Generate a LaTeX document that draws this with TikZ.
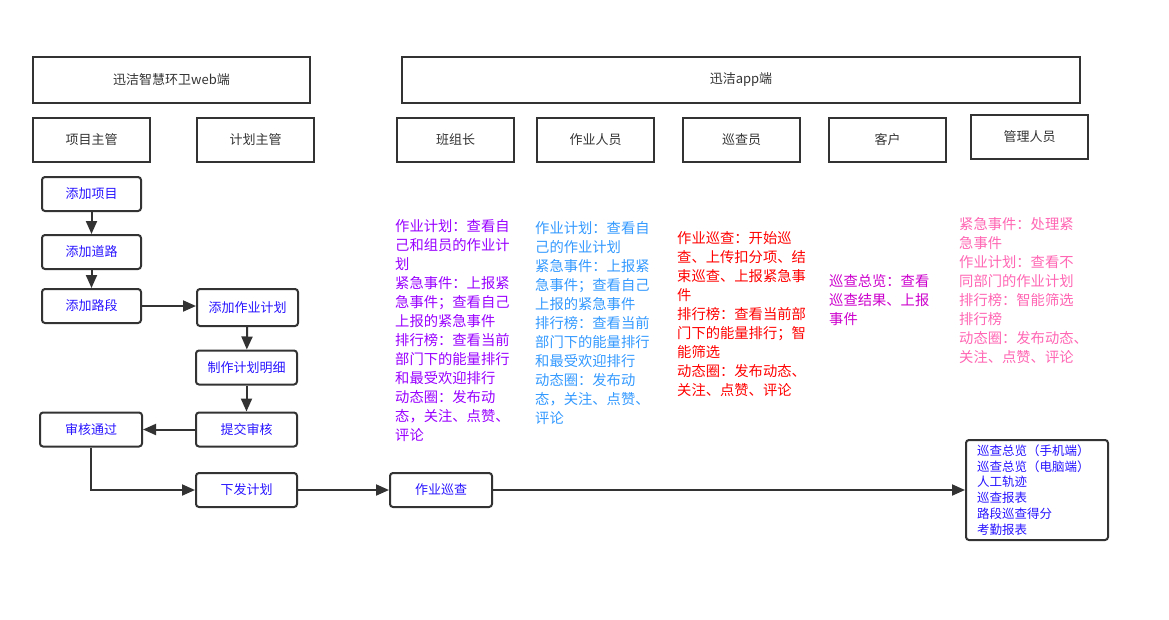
\documentclass[tikz,border=0pt]{standalone}
\usepackage{fontspec}
\setmainfont{Noto Sans CJK SC}
\usepackage{tikz}
\usetikzlibrary{arrows.meta}
\definecolor{linegray}{RGB}{51,51,51}
\definecolor{boxblue}{RGB}{40,20,255}
\definecolor{notepurple}{RGB}{153,0,255}
\definecolor{noteblue}{RGB}{51,153,255}
\definecolor{notered}{RGB}{255,0,0}
\definecolor{notemagenta}{RGB}{204,0,204}
\definecolor{notepink}{RGB}{255,102,179}
\tikzstyle{header} = [rectangle, minimum height=46, text centered, draw=linegray, line width=2, font=\fontsize{13}{16}\selectfont, text=linegray]
\tikzstyle{role} = [rectangle, minimum width=117, minimum height=44, text centered, draw=linegray, line width=2, font=\fontsize{13}{16}\selectfont, text=linegray]
\tikzstyle{process} = [rectangle, rounded corners=3, minimum width=99, minimum height=34, text centered, draw=linegray, line width=2, font=\fontsize{13}{16}\selectfont, text=boxblue]
\tikzstyle{note} = [anchor=north west, inner sep=0, align=left, font=\fontsize{14.3}{19}\selectfont]
\tikzstyle{arrow} = [line width=2, draw=linegray, -{Triangle[length=13, width=11]}]

\begin{document}
\begin{tikzpicture}[x=1pt, y=-1pt]
    \useasboundingbox (0,0) rectangle (1169,619);

    % Headers
    \node (web) [header, minimum width=277] at (171.5,80) {迅洁智慧环卫web端};
    \node (app) [header, minimum width=678] at (741,80) {迅洁app端};

    \node (xmzg) [role] at (91.5,140) {项目主管};
    \node (jhzg) [role] at (255.5,140) {计划主管};
    \node (bzz) [role] at (455.5,140) {班组长};
    \node (zyry) [role] at (595.5,140) {作业人员};
    \node (xcy) [role] at (741.5,140) {巡查员};
    \node (kh) [role] at (887.5,140) {客户};
    \node (glry) [role] at (1029.5,137) {管理人员};

    % Nodes
    \node (xiangmu) [process] at (91.5,194) {添加项目};
    \node (daolu) [process] at (91.5,252) {添加道路};
    \node (luduan) [process] at (91.5,306) {添加路段};
    \node (jihua) [process, minimum width=101, minimum height=37] at (247.5,307.5) {添加作业计划};
    \node (mingxi) [process, minimum width=101] at (246.5,367.5) {制作计划明细};
    \node (tijiao) [process, minimum width=101] at (246.5,429.5) {提交审核};
    \node (tongguo) [process, minimum width=102] at (91,429.5) {审核通过};
    \node (xiafa) [process, minimum width=101] at (246.5,490) {下发计划};
    \node (xuncha) [process, minimum width=102] at (441,490) {作业巡查};
    \node (report) [process, minimum width=142, minimum height=100, text width=120, align=left,
        font=\fontsize{12.5}{15.8}\selectfont] at (1037,490)
        {巡查总览（手机端）\\巡查总览（电脑端）\\人工轨迹\\巡查报表\\路段巡查得分\\考勤报表};

    % Notes
    \node (bzznote) [note, text=notepurple] at (395,219) {作业计划：查看自\\己和组员的作业计\\划\\紧急事件：上报紧\\急事件；查看自己\\上报的紧急事件\\排行榜：查看当前\\部门下的能量排行\\和最受欢迎排行\\动态圈：发布动\\态，关注、点赞、\\评论};
    \node (zyrynote) [note, text=noteblue] at (535,221) {作业计划：查看自\\己的作业计划\\紧急事件：上报紧\\急事件；查看自己\\上报的紧急事件\\排行榜：查看当前\\部门下的能量排行\\和最受欢迎排行\\动态圈：发布动\\态，关注、点赞、\\评论};
    \node (xcynote) [note, text=notered] at (677,231) {作业巡查：开始巡\\查、上传扣分项、结\\束巡查、上报紧急事\\件\\排行榜：查看当前部\\门下的能量排行；智\\能筛选\\动态圈：发布动态、\\关注、点赞、评论};
    \node (khnote) [note, text=notemagenta] at (829,274) {巡查总览：查看\\巡查结果、上报\\事件};
    \node (glrynote) [note, text=notepink] at (959,217) {紧急事件：处理紧\\急事件\\作业计划：查看不\\同部门的作业计划\\排行榜：智能筛选\\排行榜\\动态圈：发布动态、\\关注、点赞、评论};

    % Arrows
    \draw [arrow] (xiangmu) -- (daolu);
    \draw [arrow] (daolu) -- (luduan);
    \draw [arrow] (luduan.east) -- (luduan.east -| jihua.west);
    \draw [arrow] (jihua) -- (mingxi);
    \draw [arrow] (mingxi) -- (tijiao);
    \draw [arrow] (tijiao) -- (tongguo);
    \draw [arrow] (tongguo) |- (xiafa);
    \draw [arrow] (xiafa) -- (xuncha);
    \draw [arrow] (xuncha) -- (report);

\end{tikzpicture}
\end{document}
